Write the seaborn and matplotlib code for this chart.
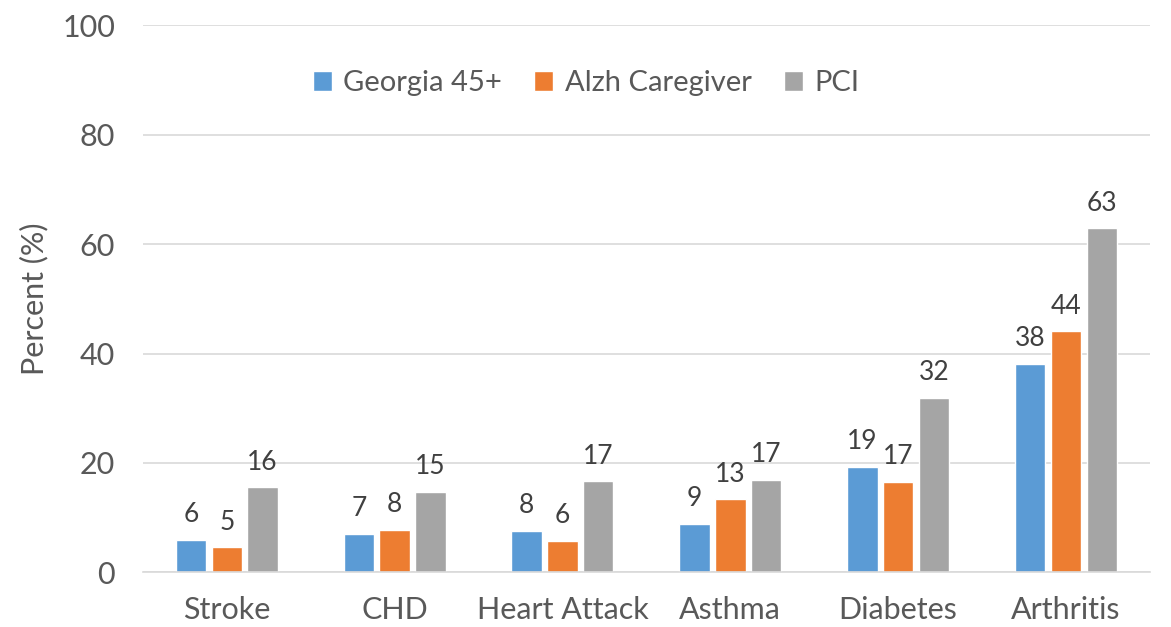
import pandas as pd
import matplotlib.pyplot as plt
import seaborn as sns

# chart data
conditions = ['Stroke', 'CHD', 'Heart Attack', 'Asthma', 'Diabetes', 'Arthritis']
groups = ['Georgia 45+', 'Alzh Caregiver', 'PCI']
georgia = [6.0, 7.1, 7.6, 8.9, 19.3, 38.1]
alzh = [4.6, 7.8, 5.8, 13.4, 16.6, 44.1]
pci = [15.6, 14.7, 16.7, 16.9, 31.9, 62.9]
colors = ['#5B9BD5', '#ED7D31', '#A5A5A5']
yticks = [0, 20, 40, 60, 80, 100]

df = pd.DataFrame({'Condition': conditions * 3,
                   'Group': [g for g in groups for _ in conditions],
                   'Percent': georgia + alzh + pci})

sns.set_theme(style='white')
plt.rcParams['font.family'] = ['Lato', 'DejaVu Sans']

fig = plt.figure(figsize=(11.71, 6.27), dpi=100)
ax = fig.add_axes([0.122, 0.087, 0.860, 0.873])

sns.barplot(data=df, x='Condition', y='Percent', hue='Group', palette=colors,
            width=0.64, gap=0.15, saturation=1, ax=ax, legend=True)

for cont in ax.containers:
    ax.bar_label(cont, fmt='%.0f', padding=9, fontsize=19, color='#404040')

ax.set_ylim(0, 100)
ax.set_yticks(yticks)
ax.yaxis.grid(True, color='#D9D9D9', linewidth=1.2)
ax.set_axisbelow(True)
for side in ['left', 'right', 'top']:
    ax.spines[side].set_visible(False)
ax.spines['bottom'].set_color('#D9D9D9')
ax.spines['bottom'].set_linewidth(1.2)

ax.tick_params(axis='y', length=0, pad=20, labelsize=22, labelcolor='#595959')
ax.tick_params(axis='x', length=0, pad=17, labelsize=22, labelcolor='#595959')
ax.set_xlabel('')
ax.set_ylabel('Percent (%)', fontsize=22, color='#595959', labelpad=10)

ax.legend(loc='center', bbox_to_anchor=(0.44, 0.894), ncol=3, frameon=False,
          fontsize=21, labelcolor='#595959', handlelength=0.65, handleheight=0.65,
          handletextpad=0.4, columnspacing=1.1)

plt.savefig('out.png', dpi=100)
plt.close()
